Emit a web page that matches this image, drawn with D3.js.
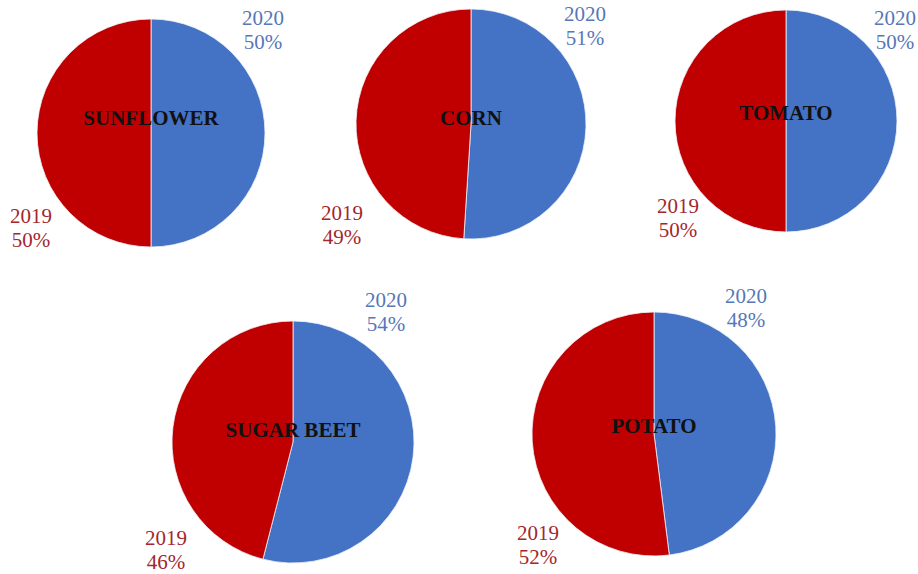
<!DOCTYPE html>
<html>
<head>
<meta charset="utf-8">
<script src="https://cdn.jsdelivr.net/npm/d3@7/dist/d3.min.js"></script>
<style>
  html, body { margin: 0; padding: 0; background: #ffffff; }
  svg { display: block; }
</style>
</head>
<body>
<svg id="chart" width="918" height="574"></svg>
<script>
// Crop shares by year (percent)
const crops = ["SUNFLOWER", "CORN", "TOMATO", "SUGAR BEET", "POTATO"];
const years = ["2020", "2019"];
const share2020 = [50, 51, 50, 54, 48];
const share2019 = [50, 49, 50, 46, 52];

// Panel layout: pie centre, radius, and label offsets from the centre
const panelLayout = [
  { cx: 151, cy: 133, r: 114, nameDy: -8, lab2020: [112, -108], lab2019: [-120, 90] },
  { cx: 471, cy: 124, r: 115, nameDy: 1,  lab2020: [114, -103], lab2019: [-129, 96] },
  { cx: 786, cy: 121, r: 111, nameDy: -1, lab2020: [109, -96],  lab2019: [-108, 92] },
  { cx: 293, cy: 442, r: 121, nameDy: -5, lab2020: [93, -135],  lab2019: [-127, 103] },
  { cx: 654, cy: 434, r: 122, nameDy: -1, lab2020: [92, -131],  lab2019: [-116, 106] }
];

const sliceColor = d3.scaleOrdinal().domain(years).range(["#4472c4", "#c00000"]);
const labelColor = d3.scaleOrdinal().domain(years).range(["#5677b8", "#a3272c"]);

const svg = d3.select("#chart");

const pie = d3.pie()
  .sort(null)
  .value(d => d.value)
  .startAngle(0)
  .endAngle(2 * Math.PI);

crops.forEach((crop, i) => {
  const L = panelLayout[i];
  const rows = [
    { year: years[0], value: share2020[i] },
    { year: years[1], value: share2019[i] }
  ];
  const arc = d3.arc().innerRadius(0).outerRadius(L.r);

  const g = svg.append("g").attr("transform", `translate(${L.cx},${L.cy})`);

  g.selectAll("path")
    .data(pie(rows))
    .join("path")
    .attr("d", arc)
    .attr("fill", d => sliceColor(d.data.year))
    .attr("stroke", "#eef2fa")
    .attr("stroke-width", 0.8);

  // crop name across the middle of the pie
  g.append("text")
    .attr("x", 0)
    .attr("y", L.nameDy)
    .attr("text-anchor", "middle")
    .attr("font-family", "'Liberation Serif', 'Times New Roman', serif")
    .attr("font-weight", "bold")
    .attr("font-size", 21)
    .attr("fill", "#111111")
    .text(crop);

  // year / percentage labels
  rows.forEach(row => {
    const off = row.year === years[0] ? L.lab2020 : L.lab2019;
    const t = g.append("text")
      .attr("text-anchor", "middle")
      .attr("font-family", "'Liberation Serif', 'Times New Roman', serif")
      .attr("font-size", 21)
      .attr("fill", labelColor(row.year));
    t.append("tspan").attr("x", off[0]).attr("y", off[1]).text(row.year);
    t.append("tspan").attr("x", off[0]).attr("y", off[1] + 24).text(row.value + "%");
  });
});
</script>
</body>
</html>
